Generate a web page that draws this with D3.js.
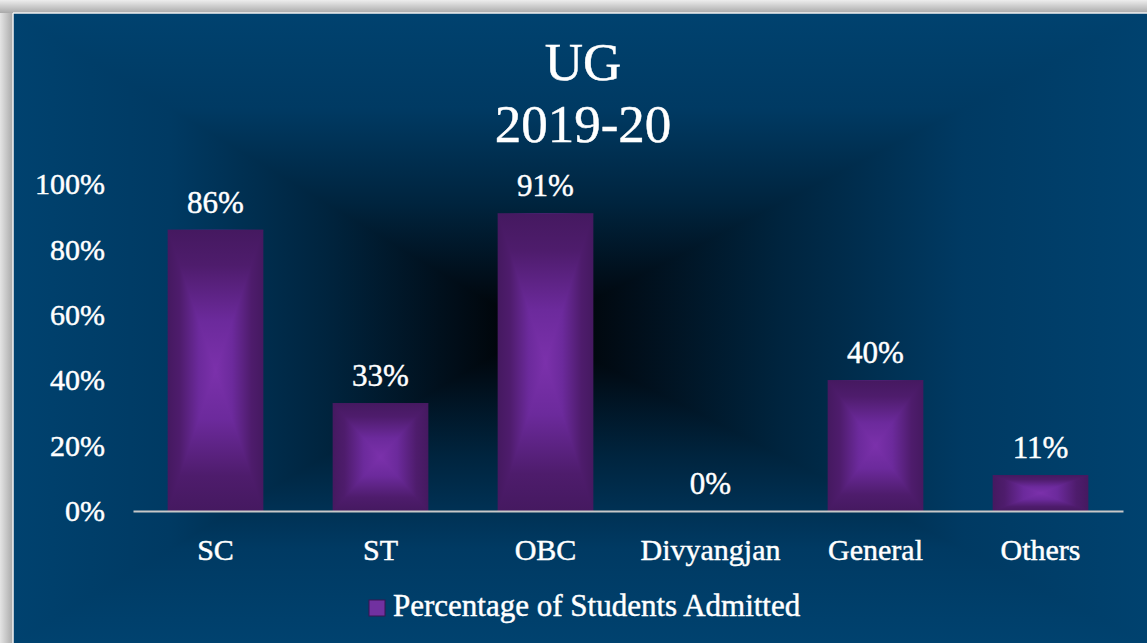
<html>
<meta charset="utf-8" />
<head>
<title>UG 2019-20</title>
<script src="https://cdn.jsdelivr.net/npm/d3@7"></script>
<style>
	body { margin: 0; background: #fff; }
	text { font-family: "Liberation Serif", serif; fill: #fff; stroke: #fff; stroke-width: 0.45px; }
</style>
<script>
const categories = ['SC', 'ST', 'OBC', 'Divyangjan', 'General', 'Others'];
const admitted = [0.86, 0.33, 0.91, 0, 0.40, 0.11];
const yTicks = [0, 0.2, 0.4, 0.6, 0.8, 1.0];
const titleLines = ['UG', '2019-20'];
const seriesName = 'Percentage of Students Admitted';

// colour stops for the "from centre" fills, t = 0 centre, t = 1 edge
const bgStops = [[0, '#000000'], [0.15, '#010d18'], [0.4, '#00243e'], [0.7, '#003a63'], [1, '#00426f']];
const barStops = [[0, '#7b31ab'], [0.35, '#6c2a9c'], [0.75, '#4e1c6c'], [1, '#451960']];

window.onload = function() {
	let W = 1147, H = 643;
	let svg = d3.select('svg').attr('width', W).attr('height', H);
	let defs = svg.append('defs');

	function addStops(grad, list) {
		list.forEach(s => grad.append('stop').attr('offset', s[0]).attr('stop-color', s[1]));
	}
	// horizontal gradient mirrored about the centre (fraction c of the width)
	function mirrored(id, c, stops, attrs) {
		let g = defs.append('linearGradient').attr('id', id);
		Object.keys(attrs).forEach(k => g.attr(k, attrs[k]));
		let list = [];
		stops.slice().reverse().forEach(s => list.push([c - s[0] * c, s[1]]));
		stops.forEach(s => list.push([c + s[0] * (1 - c), s[1]]));
		addStops(g, list);
	}
	function vertical(id, stops, attrs) {
		let g = defs.append('linearGradient').attr('id', id);
		Object.keys(attrs).forEach(k => g.attr(k, attrs[k]));
		addStops(g, stops);
	}

	// grey frame
	let frame = defs.append('linearGradient').attr('id', 'frame').attr('x1', 0).attr('y1', 0).attr('x2', 0).attr('y2', 1);
	addStops(frame, [[0, '#ededed'], [1, '#a9a9a9']]);
	let frameL = defs.append('linearGradient').attr('id', 'frameL');
	addStops(frameL, [[0, '#e4e4e4'], [1, '#a8a8a8']]);
	svg.append('rect').attr('width', 13).attr('height', H).attr('fill', 'url(#frameL)');
	svg.append('rect').attr('width', W).attr('height', 13).attr('fill', 'url(#frame)');

	// chart area: rectangular gradient dark in the middle
	let X0 = 13, Y0 = 13, X1 = W, Y1 = H, CX = 535, CY = 330;
	mirrored('bgH', (CX - X0) / (X1 - X0), bgStops, { gradientUnits: 'userSpaceOnUse', x1: X0, y1: 0, x2: X1, y2: 0 });
	vertical('bgT', bgStops, { gradientUnits: 'userSpaceOnUse', x1: 0, y1: CY, x2: 0, y2: Y0 });
	vertical('bgB', bgStops, { gradientUnits: 'userSpaceOnUse', x1: 0, y1: CY, x2: 0, y2: Y1 });
	svg.append('rect').attr('x', X0).attr('y', Y0).attr('width', X1 - X0).attr('height', Y1 - Y0).attr('fill', 'url(#bgH)');
	svg.append('path').attr('d', `M${X0},${Y0}L${X1},${Y0}L${CX},${CY}Z`).attr('fill', 'url(#bgT)');
	svg.append('path').attr('d', `M${X0},${Y1}L${X1},${Y1}L${CX},${CY}Z`).attr('fill', 'url(#bgB)');
	svg.append('line').attr('x1', X0).attr('y1', Y0).attr('x2', X1).attr('y2', Y0).attr('stroke', '#f2f2f2').attr('stroke-width', 1.5);
	svg.append('line').attr('x1', X0).attr('y1', Y0).attr('x2', X0).attr('y2', Y1).attr('stroke', '#f2f2f2').attr('stroke-width', 1.5);

	// bar fills (bounding box units, shared by all bars)
	mirrored('barH', 0.5, barStops, { x1: 0, y1: 0, x2: 1, y2: 0 });
	vertical('barT', barStops, { x1: 0, y1: 1, x2: 0, y2: 0 });
	vertical('barB', barStops, { x1: 0, y1: 0, x2: 0, y2: 1 });

	let x = d3.scaleBand().domain(categories).range([133, 1123]).paddingInner(0.42).paddingOuter(0.21);
	let y = d3.scaleLinear().domain([0, 1]).range([511, 184]);

	// title
	svg.append('g').selectAll('text').data(titleLines).enter().append('text')
		.attr('x', 583).attr('y', (d, i) => 80 + i * 62)
		.attr('text-anchor', 'middle').style('font-size', '53px')
		.text(d => d);

	// y axis labels
	let yAxis = d3.axisLeft(y).tickValues(yTicks).tickFormat(d3.format('.0%')).tickSize(0).tickPadding(0);
	let ya = svg.append('g').attr('transform', 'translate(105,0)').call(yAxis);
	ya.attr('font-family', null);
	ya.select('.domain').remove();
	ya.selectAll('text').style('font-size', '30px').attr('fill', '#fff');

	// bars
	let bars = svg.append('g').selectAll('g').data(admitted).enter().append('g')
		.attr('transform', (d, i) => `translate(${x(categories[i])},${y(d)})`);
	let bw = x.bandwidth();
	bars.append('rect')
		.attr('width', bw)
		.attr('height', d => y(0) - y(d))
		.attr('fill', 'url(#barH)');
	bars.append('path')
		.attr('d', d => { let h = y(0) - y(d); return `M0,0L${bw},0L${bw / 2},${h / 2}Z`; })
		.attr('fill', 'url(#barT)');
	bars.append('path')
		.attr('d', d => { let h = y(0) - y(d); return `M0,${h}L${bw},${h}L${bw / 2},${h / 2}Z`; })
		.attr('fill', 'url(#barB)');

	// value labels
	svg.append('g').selectAll('text').data(admitted).enter().append('text')
		.attr('x', (d, i) => x(categories[i]) + bw / 2)
		.attr('y', d => y(d) - 17)
		.attr('text-anchor', 'middle').style('font-size', '31px')
		.text(d => d3.format('.0%')(d));

	// x axis
	let xAxis = d3.axisBottom(x).tickSize(0).tickPadding(28);
	let xa = svg.append('g').attr('transform', 'translate(0,511)').call(xAxis);
	xa.attr('font-family', null);
	xa.select('.domain').attr('stroke', '#c8c8c8').attr('stroke-width', 2);
	xa.selectAll('text').style('font-size', '30px').attr('fill', '#fff');

	// legend
	let lg = svg.append('g').attr('transform', 'translate(369,600)');
	lg.append('rect').attr('width', 16).attr('height', 16).attr('fill', '#7131a0').attr('stroke', '#3a1450');
	lg.append('text').attr('x', 24).attr('y', 16).style('font-size', '31px').text(seriesName);
}
</script>
</head>
<body>
<svg></svg>
</body>
</html>
